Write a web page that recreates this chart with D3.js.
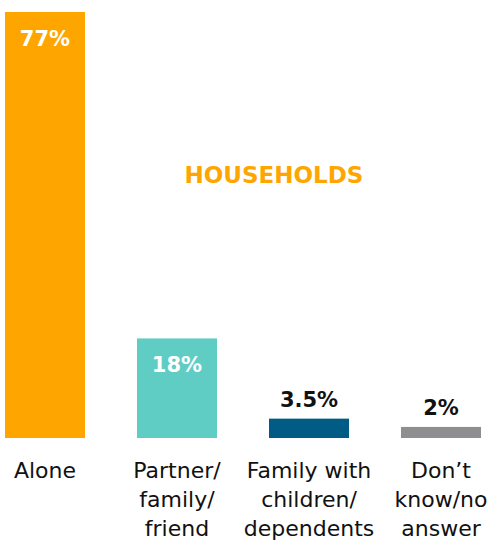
<!DOCTYPE html>
<html>
<head>
<meta charset="utf-8">
<script src="https://cdn.jsdelivr.net/npm/d3@7"></script>
<style>
  body { margin: 0; background: #fff; }
  text { font-family: "DejaVu Sans", sans-serif; }
</style>
</head>
<body>
<div id="chart"></div>
<script>
const CATEGORIES = ['Alone', 'Partner/family/friend', 'Family with children/dependents', "Don't know/no answer"]
const LABEL_LINES = [
  ['Alone'],
  ['Partner/', 'family/', 'friend'],
  ['Family with', 'children/', 'dependents'],
  ['Don\u2019t', 'know/no', 'answer']
]
const VALUES = [77, 18, 3.5, 2]
const VALUE_LABELS = ['77%', '18%', '3.5%', '2%']
const COLORS = ['#ffa500', '#5fcdc4', '#005b85', '#8e8e90']
const TITLE = 'HOUSEHOLDS'

const width = 498
const height = 541
const baseline = 438

const svg = d3.select('#chart').append('svg')
  .attr('width', width)
  .attr('height', height)

const x = d3.scaleBand()
  .domain(CATEGORIES)
  .range([5, 481])
  .paddingInner(0.394)
  .paddingOuter(0)

const y = d3.scaleLinear()
  .domain([0, 77])
  .range([baseline, 12])

const data = CATEGORIES.map((c, i) => ({
  cat: c, value: VALUES[i], label: VALUE_LABELS[i], color: COLORS[i], lines: LABEL_LINES[i]
}))

svg.selectAll('rect.bar')
  .data(data)
  .join('rect')
  .attr('class', 'bar')
  .attr('x', d => x(d.cat))
  .attr('width', x.bandwidth())
  .attr('y', d => y(d.value))
  .attr('height', d => baseline - y(d.value))
  .attr('fill', d => d.color)

// value labels: inside (white) for tall bars, above (black) for short ones
svg.selectAll('text.value')
  .data(data)
  .join('text')
  .attr('class', 'value')
  .attr('x', d => x(d.cat) + x.bandwidth() / 2)
  .attr('y', d => d.value > 10 ? y(d.value) + 34 : y(d.value) - 12)
  .attr('text-anchor', 'middle')
  .attr('font-size', 21)
  .attr('font-weight', 'bold')
  .attr('fill', d => d.value > 10 ? '#fff' : '#111')
  .text(d => d.label)

// category labels
const cat = svg.selectAll('text.cat')
  .data(data)
  .join('text')
  .attr('class', 'cat')
  .attr('x', d => x(d.cat) + x.bandwidth() / 2)
  .attr('y', 478)
  .attr('text-anchor', 'middle')
  .attr('font-size', 22)
  .attr('fill', '#111')

cat.selectAll('tspan')
  .data(d => d.lines.map(l => ({ l, cx: x(d.cat) + x.bandwidth() / 2 })))
  .join('tspan')
  .attr('x', d => d.cx)
  .attr('dy', (d, i) => i === 0 ? 0 : 29)
  .text(d => d.l)

svg.append('text')
  .attr('x', 274)
  .attr('y', 183)
  .attr('text-anchor', 'middle')
  .attr('font-size', 23)
  .attr('font-weight', 'bold')
  .attr('fill', '#ffa500')
  .text(TITLE)
</script>
</body>
</html>
